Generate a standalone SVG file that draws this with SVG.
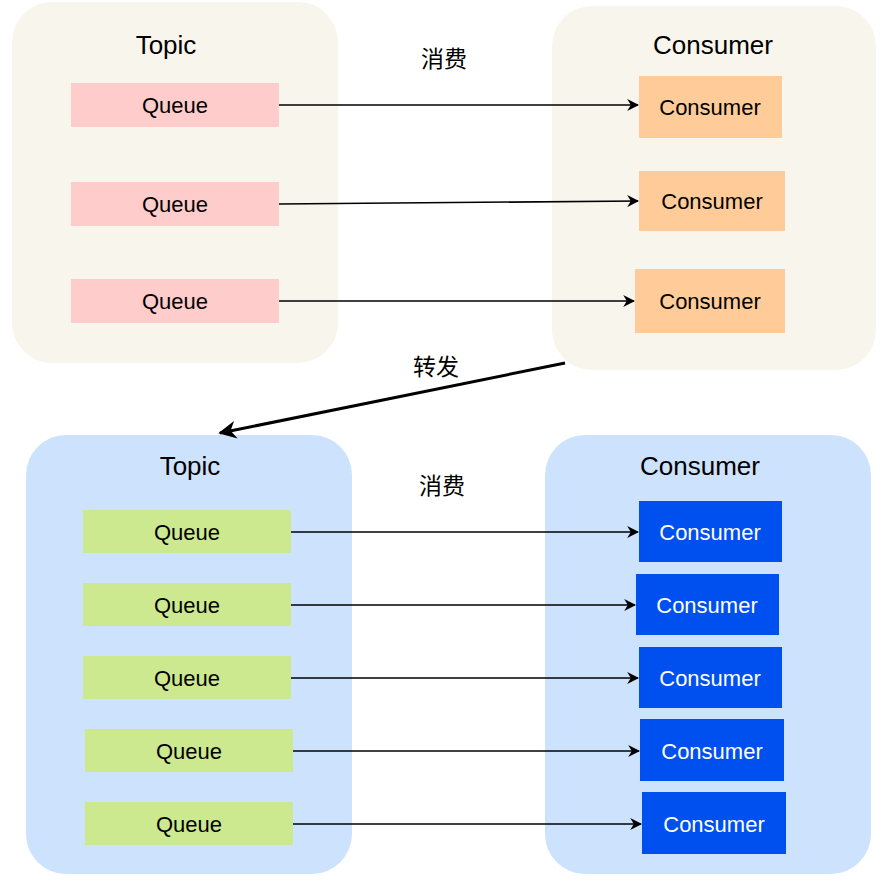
<svg xmlns="http://www.w3.org/2000/svg" width="890" height="884" viewBox="0 0 890 884">
<defs>
<marker id="arr" viewBox="0 0 10 10" refX="9" refY="5" markerWidth="12" markerHeight="12" markerUnits="userSpaceOnUse" orient="auto">
<path d="M0,0 L10,5 L0,10 L3,5 Z" fill="#000"/>
</marker>
<marker id="arrBig" viewBox="0 0 10 10" refX="9" refY="5" markerWidth="6" markerHeight="6" orient="auto">
<path d="M0,0 L10,5 L0,10 L3,5 Z" fill="#000"/>
</marker>
<style>
text{font-family:"Liberation Sans","Noto Sans CJK SC",sans-serif;text-anchor:middle;dominant-baseline:central;fill:#000}
.title{font-size:26px}
.lbl{font-size:22px}
.cn{font-size:23px;font-family:"Noto Sans CJK SC",sans-serif}
.pane1{fill:#f8f5ec}
.pane2{fill:#cce2fd}
.q1{fill:#ffcccc}
.c1{fill:#ffcc99}
.q2{fill:#cde98f}
.c2{fill:#0050ef}
.w{fill:#fff}
.edge{stroke:#000;stroke-width:1.6;fill:none;marker-end:url(#arr)}
</style>
</defs>
<g id="pane-topic1"><rect class="pane1" x="12" y="2" width="326" height="361" rx="40"/><text class="title" x="166" y="45">Topic</text></g>
<g id="pane-consumer1"><rect class="pane1" x="552" y="6" width="324" height="364" rx="40"/><text class="title" x="713" y="45">Consumer</text></g>
<g id="pane-topic2"><rect class="pane2" x="26" y="435" width="326" height="439" rx="40"/><text class="title" x="190" y="466">Topic</text></g>
<g id="pane-consumer2"><rect class="pane2" x="545" y="435" width="326" height="439" rx="40"/><text class="title" x="700" y="466">Consumer</text></g>

<g id="q1a"><rect class="q1" x="71" y="83" width="208" height="44"/><text class="lbl" x="175" y="105">Queue</text></g>
<g id="q1b"><rect class="q1" x="71" y="182" width="208" height="44"/><text class="lbl" x="175" y="204">Queue</text></g>
<g id="q1c"><rect class="q1" x="71" y="279" width="208" height="44"/><text class="lbl" x="175" y="301">Queue</text></g>

<g id="c1a"><rect class="c1" x="639" y="76" width="143" height="62"/><text class="lbl" x="710" y="107">Consumer</text></g>
<g id="c1b"><rect class="c1" x="639" y="171" width="146" height="60"/><text class="lbl" x="712" y="201">Consumer</text></g>
<g id="c1c"><rect class="c1" x="635" y="269" width="150" height="64"/><text class="lbl" x="710" y="301">Consumer</text></g>

<g id="q2a"><rect class="q2" x="83" y="510" width="208" height="43"/><text class="lbl" x="187" y="532">Queue</text></g>
<g id="q2b"><rect class="q2" x="83" y="583" width="208" height="43"/><text class="lbl" x="187" y="605">Queue</text></g>
<g id="q2c"><rect class="q2" x="83" y="656" width="208" height="43"/><text class="lbl" x="187" y="678">Queue</text></g>
<g id="q2d"><rect class="q2" x="85" y="729" width="208" height="43"/><text class="lbl" x="189" y="751">Queue</text></g>
<g id="q2e"><rect class="q2" x="85" y="802" width="208" height="43"/><text class="lbl" x="189" y="824">Queue</text></g>

<g id="c2a"><rect class="c2" x="639" y="501" width="143" height="61"/><text class="lbl w" x="710" y="532">Consumer</text></g>
<g id="c2b"><rect class="c2" x="636" y="574" width="143" height="61"/><text class="lbl w" x="707" y="605">Consumer</text></g>
<g id="c2c"><rect class="c2" x="639" y="647" width="143" height="61"/><text class="lbl w" x="710" y="678">Consumer</text></g>
<g id="c2d"><rect class="c2" x="640" y="719" width="144" height="62"/><text class="lbl w" x="712" y="751">Consumer</text></g>
<g id="c2e"><rect class="c2" x="642" y="792" width="144" height="62"/><text class="lbl w" x="714" y="824">Consumer</text></g>

<g id="connectors">
<line class="edge" x1="279" y1="105" x2="638" y2="105"/>
<line class="edge" x1="279" y1="204" x2="638" y2="201"/>
<line class="edge" x1="279" y1="301" x2="634" y2="301"/>
<line class="edge" x1="291" y1="532" x2="638" y2="532"/>
<line class="edge" x1="291" y1="605" x2="635" y2="605"/>
<line class="edge" x1="291" y1="678" x2="638" y2="678"/>
<line class="edge" x1="293" y1="751" x2="639" y2="751"/>
<line class="edge" x1="293" y1="824" x2="641" y2="824"/>
<line x1="565" y1="363" x2="220" y2="433" stroke="#000" stroke-width="3" marker-end="url(#arrBig)"/>
<text class="cn" x="444" y="57">消费</text>
<text class="cn" x="436" y="365">转发</text>
<text class="cn" x="442" y="484">消费</text>
</g>
</svg>
